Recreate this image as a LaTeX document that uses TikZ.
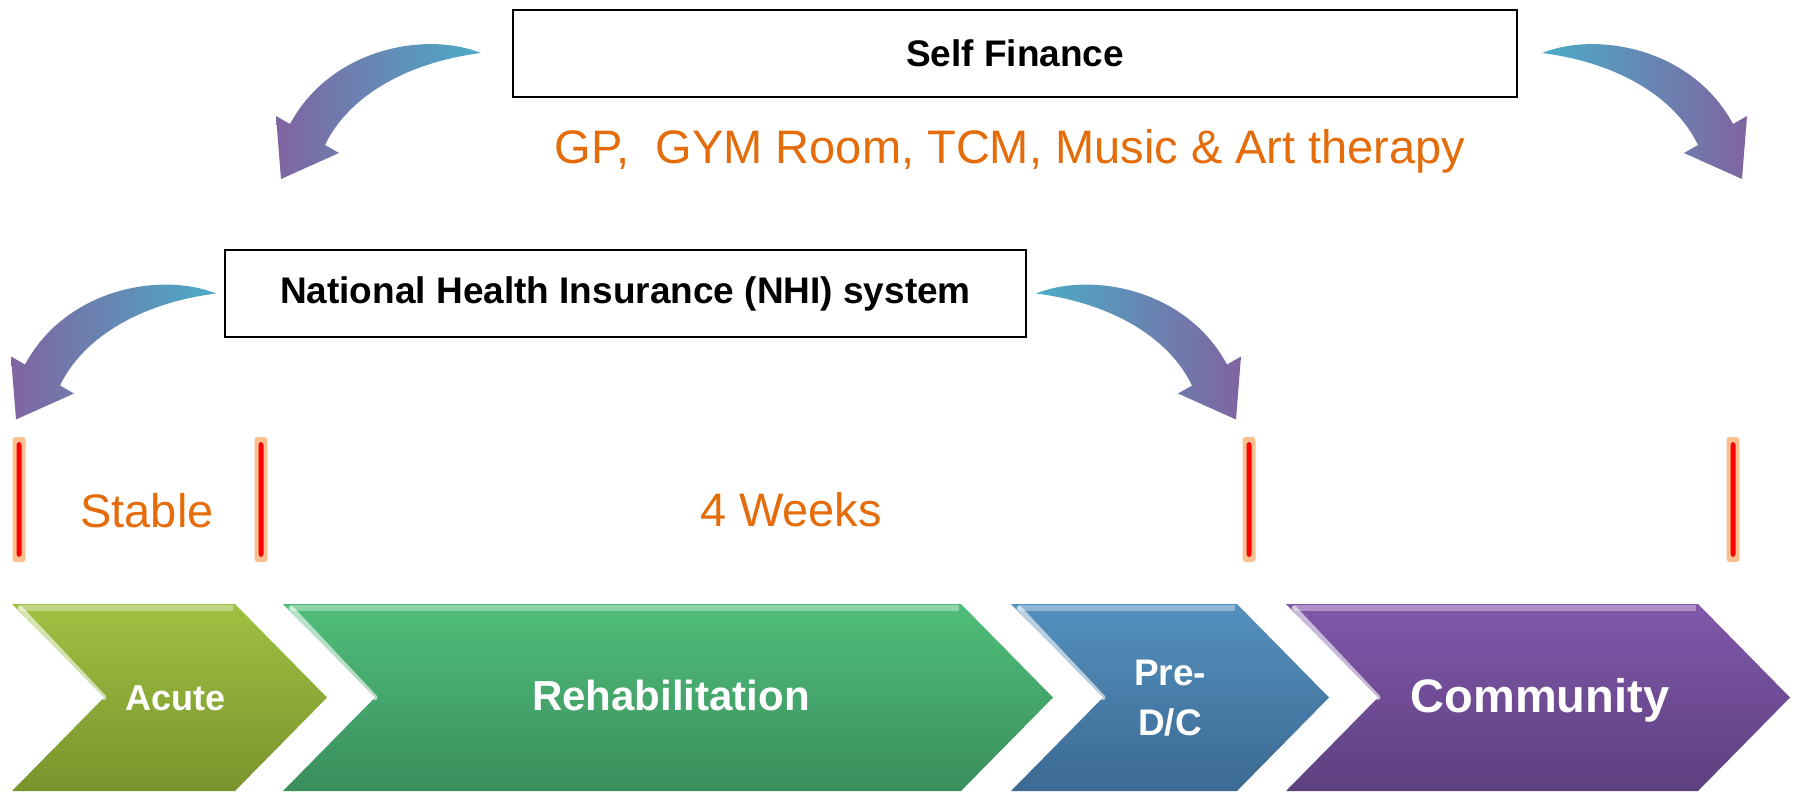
\documentclass[tikz,border=0pt]{standalone}
\usepackage{fontspec}
\setmainfont{Liberation Sans}
\definecolor{sforange}{HTML}{E46C0A}
\definecolor{barfill}{HTML}{FAC090}
\definecolor{hteal}{HTML}{4BACC6}
\definecolor{hpurple}{HTML}{8064A2}
\definecolor{acutetop}{RGB}{160,192,66}
\definecolor{acutebot}{RGB}{120,148,44}
\definecolor{rehabtop}{RGB}{80,190,122}
\definecolor{rehabbot}{RGB}{58,142,92}
\definecolor{predctop}{RGB}{84,144,190}
\definecolor{predcbot}{RGB}{60,106,146}
\definecolor{commtop}{RGB}{128,88,170}
\definecolor{commbot}{RGB}{94,64,128}
\tikzset{
  paybox/.style={draw, line width=2pt, minimum height=87pt, font=\fontsize{37}{44}\selectfont\bfseries},
  spantext/.style={text=sforange, font=\fontsize{47}{56}\selectfont, anchor=base},
  phasetext/.style={text=white, align=center, anchor=base},
  stopbar/.style={fill=barfill, rounded corners=3pt, minimum width=13pt, minimum height=125pt, inner sep=0pt,
    path picture={\fill[red] ([xshift=-2.5pt,yshift=-5pt]path picture bounding box.north) rectangle ([xshift=2.5pt,yshift=5pt]path picture bounding box.south);}}
}
\begin{document}
\begin{tikzpicture}[>=latex, x=1pt, y=-1pt]
\useasboundingbox (0,0) rectangle (1794,793);
\node[paybox, minimum width=1004pt] (sf) at (1015,53) {Self Finance};
\node[paybox, minimum width=801pt] (nhi) at (625.5,293.5) {National Health Insurance (NHI) system};
\node[spantext] (gp) at (1010,163) {GP,\ \ GYM Room, TCM, Music \& Art therapy};
\foreach \x [count=\i] in {19,261,1249,1733}
    \node[stopbar] (bar\i) at (\x,499.5) {};
\node[spantext] (stable) at (147,527) {Stable};
\node[spantext] (weeks) at (791,526) {4 Weeks};
\coordinate (sfl) at ([xshift=-31pt]sf.west);
\coordinate (sfr) at ([xshift=24pt]sf.east);
\coordinate (nhil) at ([xshift=-8pt]nhi.west);
\coordinate (nhir) at ([xshift=9pt]nhi.east);
\foreach \p/\s/\a/\b in {sfl/1/hpurple/hteal, sfr/-1/hteal/hpurple, nhil/1/hpurple/hteal, nhir/-1/hteal/hpurple}
    \shade[left color=\a, right color=\b, shift={(\p)}, xscale=\s] (0,0) .. controls (-55,-22) and (-150,-5) .. (-191,71)
        -- (-205,63) -- (-200,126) -- (-142,100) -- (-156,92) .. controls (-132,42) and (-72,9) .. (0,0) -- cycle;
\foreach \L/\R/\ct/\cb in {12/235/acutetop/acutebot, 283/961/rehabtop/rehabbot, 1011/1237/predctop/predcbot, 1286/1698/commtop/commbot}
{
    \shade[top color=\ct, bottom color=\cb] (\L,604) -- (\R,604) -- (\R+92,697.5) -- (\R,791) -- (\L,791) -- (\L+92,697.5) -- cycle;
    \draw[white, opacity=.35, line width=6pt] (\L+8,608) -- (\R-2,608);
    \draw[white, opacity=.6, line width=5pt, line cap=round] (\L+8,608) -- (\L+92,697.5);
}
\node[phasetext, font=\fontsize{36}{43}\selectfont\bfseries] (acute) at (176,710) {Acute};
\node[phasetext, font=\fontsize{42}{50}\selectfont\bfseries] (rehab) at (671,710) {Rehabilitation};
\node[phasetext, font=\fontsize{37}{50}\selectfont\bfseries, anchor=center] (predc) at (1170,698) {Pre-\\D/C};
\node[phasetext, font=\fontsize{47}{56}\selectfont\bfseries] (comm) at (1540,712) {Community};
\end{tikzpicture}
\end{document}
